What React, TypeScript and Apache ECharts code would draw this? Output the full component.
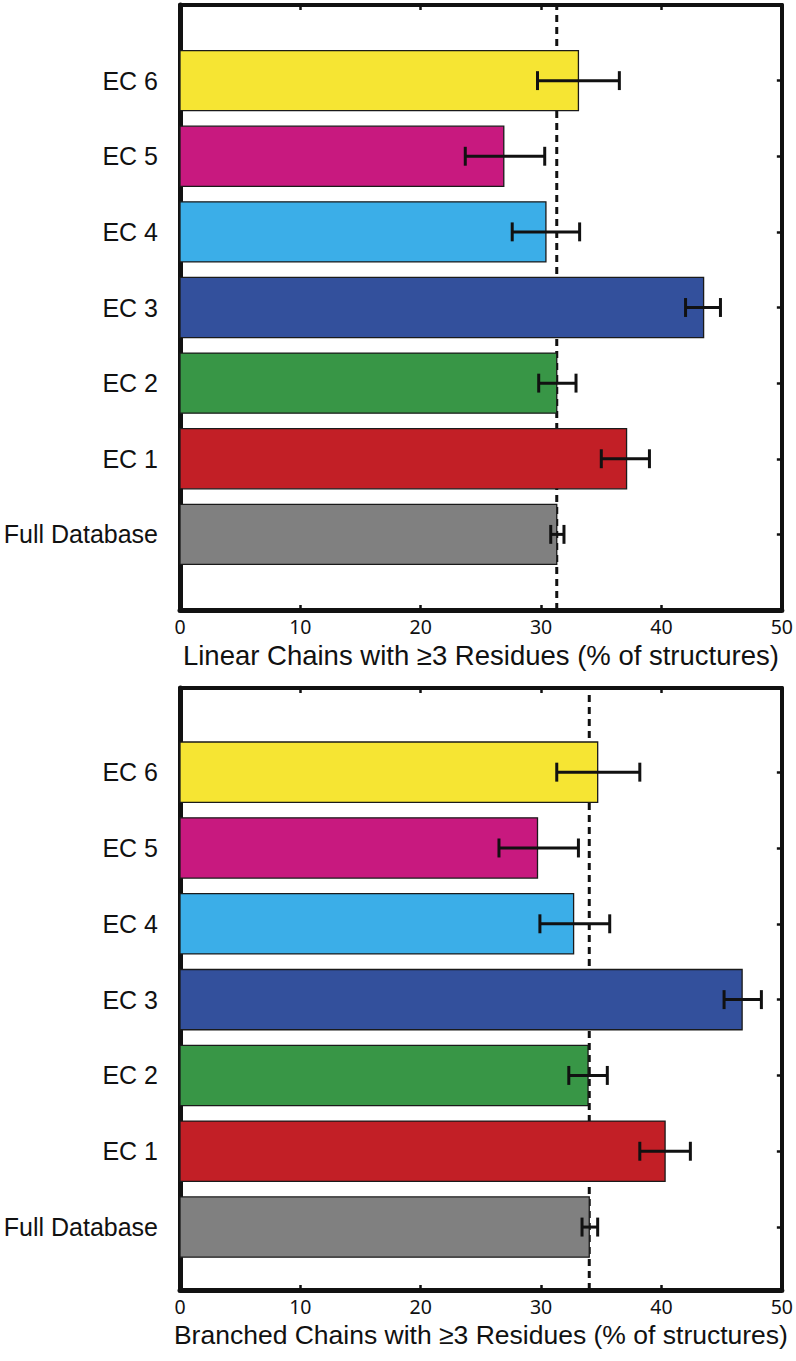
import React, { useEffect, useRef } from "react";
import * as echarts from "echarts";

const categories = ["Full Database", "EC 1", "EC 2", "EC 3", "EC 4", "EC 5", "EC 6"];
const barColors = ["#808080", "#C21F26", "#389646", "#33509C", "#3BAEE8", "#C8197F", "#F6E533"];

const linearMean = [31.3, 37.1, 31.3, 43.5, 30.4, 26.9, 33.1];
const linearLow = [30.8, 35.0, 29.8, 42.0, 27.6, 23.7, 29.7];
const linearHigh = [31.9, 39.0, 32.9, 44.9, 33.2, 30.3, 36.5];
const linearReference = 31.3;
const linearTitle = "Linear Chains with \u22653 Residues (% of structures)";

const branchedMean = [34.0, 40.3, 33.9, 46.7, 32.7, 29.7, 34.7];
const branchedLow = [33.4, 38.2, 32.3, 45.2, 29.9, 26.5, 31.3];
const branchedHigh = [34.7, 42.4, 35.5, 48.3, 35.7, 33.1, 38.2];
const branchedReference = 34.0;
const branchedTitle = "Branched Chains with \u22653 Residues (% of structures)";

const xMin = 0;
const xMax = 50;
const xInterval = 10;

const INK = "#111111";

function panel(g: number, means: number[], lows: number[], highs: number[], ref: number, yMin: number, yMax: number, title: string, nameSize: number) {
  const positions = categories.map((_, i) => i);
  const xAxes = [
    {
      type: "value", gridIndex: g, position: "bottom", min: xMin, max: xMax, interval: xInterval,
      name: title, nameLocation: "middle", nameGap: 31,
      nameTextStyle: { fontFamily: "Liberation Sans", fontSize: nameSize, color: INK },
      axisLine: { show: true, onZero: false, lineStyle: { color: INK, width: 5 } },
      axisTick: { show: true, inside: true, length: 5, lineStyle: { color: INK, width: 2.5 } },
      axisLabel: { fontFamily: "Noto Sans", fontSize: 19.5, color: INK, margin: 6 },
      splitLine: { show: false },
    },
    {
      type: "value", gridIndex: g, position: "top", min: xMin, max: xMax, interval: xInterval,
      axisLine: { show: true, onZero: false, lineStyle: { color: INK, width: 4 } },
      axisTick: { show: true, inside: true, length: 5, lineStyle: { color: INK, width: 2.5 } },
      axisLabel: { show: false },
      splitLine: { show: false },
    },
  ];
  const yAxes = [
    {
      type: "value", gridIndex: g, position: "left", min: yMin, max: yMax,
      axisLine: { show: true, onZero: false, lineStyle: { color: INK, width: 5 } },
      axisTick: { show: true, inside: true, length: 5, customValues: positions, lineStyle: { color: INK, width: 2.5 } },
      axisLabel: {
        customValues: positions,
        formatter: (v: number) => categories[Math.round(v)] ?? "",
        fontFamily: "Liberation Sans", fontSize: 25, color: INK, margin: 22,
      },
      splitLine: { show: false },
    },
    {
      type: "value", gridIndex: g, position: "right", min: yMin, max: yMax,
      axisLine: { show: true, onZero: false, lineStyle: { color: INK, width: 4 } },
      axisTick: { show: true, inside: true, length: 5, customValues: positions, lineStyle: { color: INK, width: 2.5 } },
      axisLabel: { show: false },
      splitLine: { show: false },
    },
  ];
  const xi = g * 2;
  const yi = g * 2;
  const series = [
    {
      type: "line", xAxisIndex: xi, yAxisIndex: yi, z: 1, silent: true, symbol: "none",
      data: [[ref, yMin], [ref, yMax]],
      lineStyle: { color: INK, width: 3, type: [7, 5] },
    },
    {
      type: "custom", xAxisIndex: xi, yAxisIndex: yi, z: 2, silent: true,
      encode: { x: 0, y: 1 },
      data: means.map((m, i) => [m, i]),
      renderItem: (params: any, api: any) => {
        const v = api.value(0);
        const p = api.value(1);
        const a = api.coord([0, p]);
        const b = api.coord([v, p]);
        const h = api.size([0, 1])[1] * 0.795;
        return {
          type: "rect",
          shape: { x: a[0], y: a[1] - h / 2, width: b[0] - a[0], height: h },
          style: { fill: barColors[params.dataIndex], stroke: "#1a1a1a", lineWidth: 1.3 },
        };
      },
    },
    {
      type: "custom", xAxisIndex: xi, yAxisIndex: yi, z: 3, silent: true,
      encode: { x: [0, 1], y: 2 },
      data: means.map((_, i) => [lows[i], highs[i], i]),
      renderItem: (params: any, api: any) => {
        const p = api.value(2);
        const a = api.coord([api.value(0), p]);
        const b = api.coord([api.value(1), p]);
        const c = api.size([0, 1])[1] * 0.125;
        const st = { stroke: INK, lineWidth: 3 };
        return {
          type: "group",
          children: [
            { type: "line", shape: { x1: a[0], y1: a[1], x2: b[0], y2: b[1] }, style: st },
            { type: "line", shape: { x1: a[0], y1: a[1] - c, x2: a[0], y2: a[1] + c }, style: st },
            { type: "line", shape: { x1: b[0], y1: b[1] - c, x2: b[0], y2: b[1] + c }, style: st },
          ],
        };
      },
    },
  ];
  return { xAxes, yAxes, series };
}

export default function App() {
  const ref = useRef<HTMLDivElement>(null);
  useEffect(() => {
    if (!ref.current) return;
    const chart = echarts.init(ref.current, null, { renderer: "svg" });
    const p1 = panel(0, linearMean, linearLow, linearHigh, linearReference, -1, 7, linearTitle, 27.5);
    const p2 = panel(1, branchedMean, branchedLow, branchedHigh, branchedReference, -0.83, 7.11, branchedTitle, 26.5);
    chart.setOption({
      animation: false,
      backgroundColor: "#ffffff",
      grid: [
        { left: 180, right: 10.5, top: 5, height: 605 },
        { left: 180, right: 10.5, top: 688, height: 602 },
      ],
      xAxis: [...p1.xAxes, ...p2.xAxes],
      yAxis: [...p1.yAxes, ...p2.yAxes],
      series: [...p1.series, ...p2.series],
    } as any);
    return () => chart.dispose();
  }, []);
  return (
    <div
      ref={ref}
      style={{ position: "absolute", left: 0, top: 0, width: 796, height: 1361, background: "#fff" }}
    />
  );
}
